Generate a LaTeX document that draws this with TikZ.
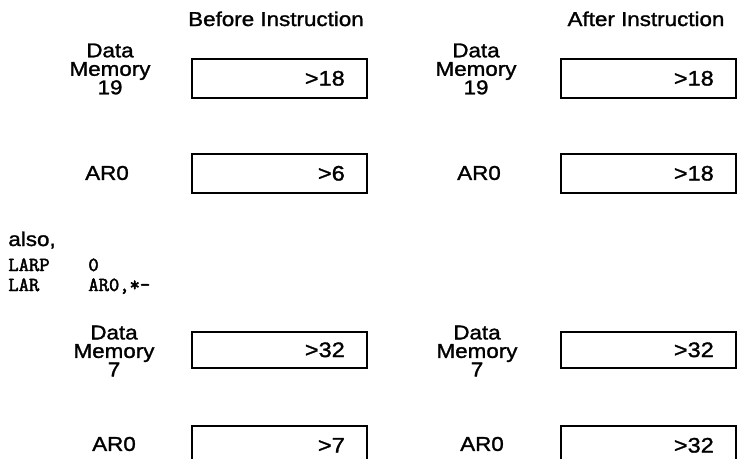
\documentclass[tikz,border=0pt]{standalone}
\usepackage{fontspec}
\setmainfont[FakeStretch=1.12,FakeBold=1.4]{Liberation Sans}
\newfontfamily\codefont[FakeBold=2.4]{Latin Modern Mono}

\begin{document}
\begin{tikzpicture}[x=1pt, y=-1pt, thick]
  \tikzset{
    lbl/.style={align=center, inner sep=0pt, font=\fontsize{20}{18.5}\selectfont},
    regbox/.style={draw, line width=1.6pt, minimum width=175pt, text width=131pt,
      inner xsep=22pt, inner ysep=0pt, align=right, anchor=north west,
      font=\fontsize{21}{21}\selectfont},
    code/.style={anchor=base west, inner sep=0pt, font=\codefont\fontsize{20}{20}\selectfont}
  }
  \useasboundingbox (0,0) rectangle (739,458);
  \clip (0,0) rectangle (739,458);

  % headings
  \node[lbl, anchor=base] (before) at (276,26) {Before Instruction};
  \node[lbl, anchor=base] (after) at (646,26) {After Instruction};

  % first case
  \node[lbl] (dmA) at (110,69) {Data\\Memory\\19};
  \node[regbox, minimum height=39pt] (dmAb) at (191,58) {>18};
  \node[lbl] (arA) at (107,173) {AR0};
  \node[regbox, minimum height=39pt] (arAb) at (191,153) {>6};

  \node[lbl] (dmAa) at (476,69) {Data\\Memory\\19};
  \node[regbox, minimum height=39pt] (dmAab) at (560,58) {>18};
  \node[lbl] (arAa) at (479,173) {AR0};
  \node[regbox, minimum height=39pt] (arAab) at (560,153) {>18};

  % second case
  \node[lbl, anchor=base west] (also) at (8,246) {also,};
  \node[code] (op1) at (8,271) {LARP};
  \node[code] (arg1) at (88,271) {0};
  \node[code] (op2) at (8,291) {LAR};
  \node[code] (arg2) at (88,291) {AR0,*-};

  \node[lbl] (dmB) at (114,351) {Data\\Memory\\7};
  \node[regbox, minimum height=36pt] (dmBb) at (191,331) {>32};
  \node[lbl] (arB) at (114,444) {AR0};
  \node[regbox, minimum height=39pt] (arBb) at (191,425) {>7};

  \node[lbl] (dmBa) at (477,351) {Data\\Memory\\7};
  \node[regbox, minimum height=36pt] (dmBab) at (560,331) {>32};
  \node[lbl] (arBa) at (482,444) {AR0};
  \node[regbox, minimum height=39pt] (arBab) at (560,425) {>32};
\end{tikzpicture}
\end{document}
